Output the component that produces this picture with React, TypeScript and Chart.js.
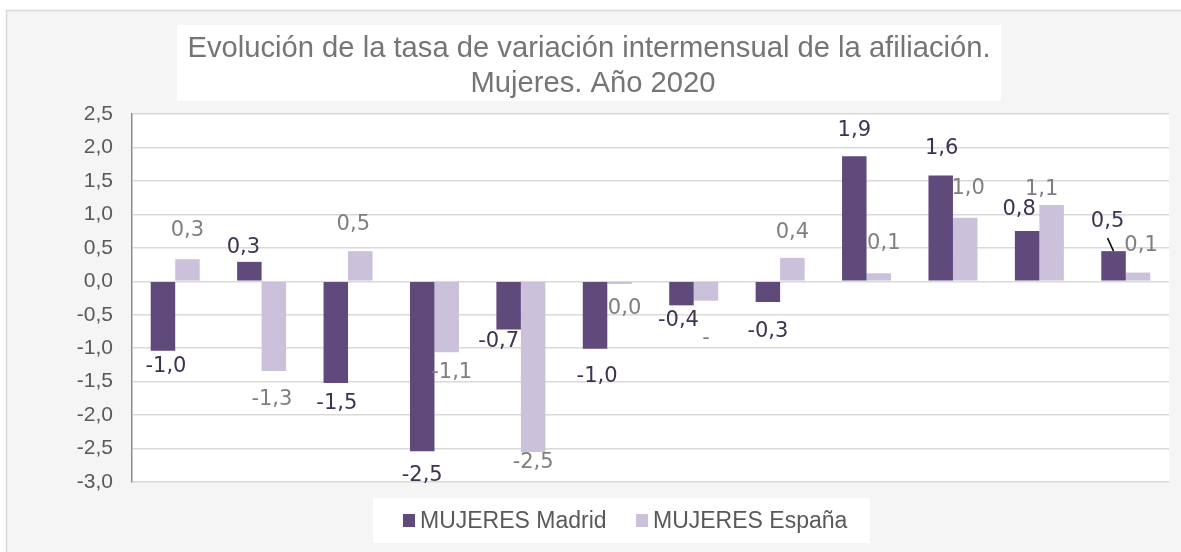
import React, { useEffect, useRef } from "react";
import { Chart, registerables } from "chart.js";

Chart.register(...registerables);

// ---- data ----
const months = ["Ene", "Feb", "Mar", "Abr", "May", "Jun", "Jul", "Ago", "Sep", "Oct", "Nov", "Dic"];
const madridValues = [-1.04, 0.29, -1.52, -2.54, -0.72, -1.01, -0.36, -0.31, 1.87, 1.58, 0.75, 0.45];
const espanaValues = [0.33, -1.34, 0.45, -1.06, -2.55, -0.04, -0.29, 0.35, 0.12, 0.95, 1.14, 0.13];
const madridLabels = ["-1,0", "0,3", "-1,5", "-2,5", "-0,7", "-1,0", "-0,4", "-0,3", "1,9", "1,6", "0,8", "0,5"];
const espanaLabels = ["0,3", "-1,3", "0,5", "-1,1", "-2,5", "0,0", "-", "0,4", "0,1", "1,0", "1,1", "0,1"];
const seriesNames = ["MUJERES Madrid", "MUJERES España"];
const titleLines = ["Evolución de la tasa de variación intermensual de la afiliación.", "Mujeres. Año 2020"];
const yMin = -3;
const yMax = 2.5;
const yStep = 0.5;

// ---- label nudges (px, relative to bar end) ----
const madridDx = [3, -6, 1, 0, -10, 2, -3, 0, 0, 1, -8, -6];
const madridDy = [16, 14, 21, 24, 12, 28, 15, 30, 26, 27, 22, 30];
const madridLeader = [false, false, false, false, false, false, false, false, false, false, false, true];
const espanaDx = [0, -2, -7, 5, 0, 5, 0, 0, 5, 3, -10, 3];
const espanaDy = [29, 29, 27, 20, 11, 25, 38, 25, 30, 29, 15, 27];

// ---- styles ----
const MADRID_COLOR = "#604a7b";
const ESPANA_COLOR = "#ccc1da";
const MADRID_LABEL = "#3f3151";
const ESPANA_LABEL = "#7f7f7f";

const framePlugin = {
  id: "frame",
  beforeDraw(chart: any) {
    const { ctx, width, height, chartArea } = chart;
    ctx.save();
    ctx.fillStyle = "#ffffff";
    ctx.fillRect(0, 0, width, height);
    ctx.fillStyle = "#f5f5f5";
    ctx.fillRect(6, 10, width - 6, height - 10);
    ctx.strokeStyle = "#d9d9d9";
    ctx.lineWidth = 1.5;
    ctx.beginPath();
    ctx.moveTo(6.5, height);
    ctx.lineTo(6.5, 10.5);
    ctx.lineTo(width, 10.5);
    ctx.stroke();
    // plot area
    ctx.fillStyle = "#ffffff";
    ctx.fillRect(chartArea.left, chartArea.top, chartArea.right - chartArea.left, chartArea.bottom - chartArea.top);
    // title box
    ctx.fillRect(177, 25, 824, 76);
    ctx.fillStyle = "#757575";
    ctx.font = "29.2px 'Liberation Sans', Arial, sans-serif";
    ctx.textAlign = "center";
    ctx.textBaseline = "alphabetic";
    ctx.fillText(titleLines[0], 589, 57);
    ctx.fillText(titleLines[1], 593, 91.5);
    // legend box
    ctx.fillStyle = "#ffffff";
    ctx.fillRect(373, 498, 497, 45);
    const legendColors = [MADRID_COLOR, ESPANA_COLOR];
    const markerX = [403, 636];
    ctx.font = "23px 'Liberation Sans', Arial, sans-serif";
    ctx.textAlign = "left";
    for (let i = 0; i < seriesNames.length; i++) {
      ctx.fillStyle = legendColors[i];
      ctx.fillRect(markerX[i], 514, 12, 13);
      ctx.fillStyle = "#595959";
      ctx.fillText(seriesNames[i], markerX[i] + 17, 528);
    }
    ctx.restore();
  },
};

const labelPlugin = {
  id: "barLabels",
  afterDatasetsDraw(chart: any) {
    const { ctx } = chart;
    const configs = [
      { labels: madridLabels, values: madridValues, dx: madridDx, dy: madridDy, color: MADRID_LABEL, leader: madridLeader },
      { labels: espanaLabels, values: espanaValues, dx: espanaDx, dy: espanaDy, color: ESPANA_LABEL, leader: null as any },
    ];
    ctx.save();
    ctx.font = "21px 'DejaVu Sans', sans-serif";
    ctx.textAlign = "center";
    ctx.textBaseline = "middle";
    configs.forEach((cfg, di) => {
      const meta = chart.getDatasetMeta(di);
      meta.data.forEach((el: any, i: number) => {
        const dir = cfg.values[i] >= 0 ? -1 : 1;
        const lx = el.x + cfg.dx[i];
        const ly = el.y + dir * cfg.dy[i];
        ctx.fillStyle = cfg.color;
        ctx.fillText(cfg.labels[i], lx, ly);
        if (cfg.leader && cfg.leader[i]) {
          ctx.strokeStyle = "#000000";
          ctx.lineWidth = 1.5;
          ctx.beginPath();
          ctx.moveTo(lx, ly - dir * 17);
          ctx.lineTo(el.x, el.y);
          ctx.stroke();
        }
      });
    });
    ctx.restore();
  },
};

export default function App() {
  const canvasRef = useRef<HTMLCanvasElement | null>(null);

  useEffect(() => {
    document.body.style.margin = "0";
    const canvas = canvasRef.current;
    if (!canvas) return;
    const chart = new Chart(canvas, {
      type: "bar",
      data: {
        labels: months,
        datasets: [
          { label: seriesNames[0], data: madridValues, backgroundColor: MADRID_COLOR, borderWidth: 0 },
          { label: seriesNames[1], data: espanaValues, backgroundColor: ESPANA_COLOR, borderWidth: 0 },
        ],
      },
      options: {
        animation: false,
        responsive: true,
        maintainAspectRatio: false,
        events: [],
        layout: { padding: { left: 0, top: 114, right: 12, bottom: 70 } },
        datasets: { bar: { categoryPercentage: 0.567, barPercentage: 1 } },
        plugins: {
          legend: { display: false },
          title: { display: false },
          tooltip: { enabled: false },
        },
        scales: {
          x: {
            ticks: { display: false },
            grid: { display: false, drawTicks: false },
            border: { display: false },
            afterFit: (scale: any) => {
              scale.height = 0;
            },
          },
          y: {
            min: yMin,
            max: yMax,
            ticks: {
              stepSize: yStep,
              padding: 19,
              color: "#595959",
              font: { family: "'Liberation Sans', Arial, sans-serif", size: 21 },
              callback: (v: any) => Number(v).toFixed(1).replace(".", ","),
            },
            grid: { color: "#d9d9d9", lineWidth: 1.5, drawTicks: false },
            border: { display: true, color: "#8c8c8c", width: 1.5 },
            afterFit: (scale: any) => {
              scale.width = 132;
            },
          },
        },
      },
      plugins: [framePlugin, labelPlugin],
    });
    return () => chart.destroy();
  }, []);

  return (
    <div style={{ position: "relative", width: 1181, height: 552 }}>
      <canvas ref={canvasRef} />
    </div>
  );
}
